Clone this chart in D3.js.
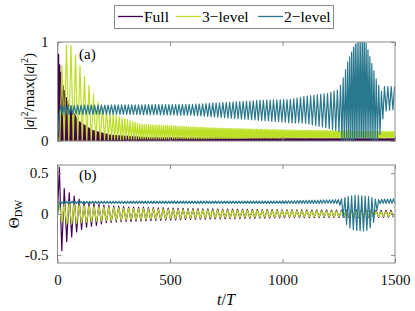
<!DOCTYPE html>
<html>
<head>
<meta charset="utf-8">
<script src="https://cdn.jsdelivr.net/npm/d3@7"></script>
<style>
  body { margin: 0; background: #fff; }
</style>
</head>
<body>
<div id="chart"></div>
<script>
const seriesNames = ['Full', '3\u2212level', '2\u2212level']
const seriesColors = ['#440154', '#bddf26', '#2a788e']

const xTicks = [0, 500, 1000, 1500]
const yTicksA = [0, 1]
const yTicksB = [-0.5, 0, 0.5]

// envelopes: [t, lower, upper, period]
// panel (a)
const fullA = [
  [0, 0, 1.0, 5], [6, 0, 0.85, 5], [12, 0, 0.73, 5], [27, 0, 0.53, 5],
  [50, 0, 0.37, 5], [94, 0, 0.2, 5], [153, 0, 0.11, 5], [234, 0, 0.06, 5],
  [400, 0.005, 0.035, 5], [800, 0.005, 0.03, 5], [1500, 0.005, 0.025, 5]
]
const threeA = [
  [0, 0, 0, 20], [10, 0, 0.6, 20], [32, 0, 0.95, 20], [52, 0, 1.0, 20],
  [72, 0, 0.91, 20], [94, 0, 0.79, 20], [116, 0, 0.67, 20], [138, 0, 0.57, 20],
  [160, 0, 0.47, 20], [189, 0.01, 0.36, 20], [234, 0.015, 0.28, 14],
  [367, 0.02, 0.17, 10], [700, 0.025, 0.13, 7], [1035, 0.03, 0.11, 7],
  [1500, 0.03, 0.095, 7]
]
const twoA = [
  [0, 0, 0, 15], [4, 0.27, 0.36, 15], [300, 0.27, 0.365, 15], [600, 0.26, 0.37, 15],
  [900, 0.21, 0.41, 15], [1035, 0.185, 0.42, 15], [1100, 0.18, 0.45, 15],
  [1200, 0.13, 0.48, 15], [1250, 0.1, 0.52, 14], [1265, 0, 0.6, 11],
  [1290, 0, 0.8, 9], [1320, 0.02, 0.97, 8], [1340, 0.03, 1.0, 8],
  [1370, 0.03, 1.0, 8], [1395, 0.02, 0.8, 9], [1420, 0, 0.6, 11],
  [1440, 0.1, 0.5, 13], [1450, 0.3, 0.55, 15], [1500, 0.32, 0.55, 15]
]

// panel (b)
const fullB = [
  [0, 0, 0, 22], [8, -0.5, 0.57, 22], [19, -0.45, 0.44, 22], [30, -0.39, 0.31, 22],
  [41, -0.34, 0.28, 22], [52, -0.31, 0.26, 22], [63, -0.28, 0.24, 22],
  [74, -0.25, 0.22, 22], [85, -0.22, 0.2, 22], [96, -0.21, 0.18, 22],
  [118, -0.17, 0.15, 22], [140, -0.15, 0.14, 22], [162, -0.15, 0.13, 22],
  [184, -0.13, 0.12, 22], [206, -0.11, 0.11, 22], [228, -0.1, 0.1, 22],
  [320, -0.09, 0.085, 22], [600, -0.065, 0.065, 22], [1035, -0.045, 0.05, 22],
  [1500, -0.04, 0.045, 22]
]
const threeB = [
  [0, 0, 0, 22], [8, -0.02, 0.12, 22], [19, -0.1, 0.12, 22], [50, -0.13, 0.13, 22],
  [100, -0.11, 0.11, 22], [200, -0.085, 0.085, 22], [320, -0.07, 0.07, 22],
  [600, -0.05, 0.05, 22], [1000, -0.035, 0.04, 22], [1500, -0.03, 0.03, 22]
]
const twoB = [
  [0, 0, 0, 13], [5, 0.13, 0.155, 13], [1000, 0.13, 0.16, 13], [1240, 0.13, 0.175, 13],
  [1258, 0.1, 0.18, 15], [1275, -0.1, 0.2, 15], [1300, -0.17, 0.22, 15],
  [1320, -0.2, 0.23, 15], [1370, -0.21, 0.22, 15], [1400, -0.15, 0.2, 15],
  [1420, 0.05, 0.17, 15], [1435, 0.13, 0.18, 13], [1500, 0.13, 0.185, 13]
]

let width = 415
let height = 311
let serif = '"Liberation Serif"'

let svg = d3
  .select('#chart')
  .append('svg')
  .attr('width', width)
  .attr('height', height)
  .style('font-family', serif)

let xScale = d3.scaleLinear().domain([0, 1500]).range([57.5, 395])
let yScaleA = d3.scaleLinear().domain([0, 1]).range([141, 42])
let yScaleB = d3.scaleLinear().domain([-0.6, 0.6]).range([263, 165])

// value of column col at time t, between the read knots
function envelope(knots, t, col) {
  let i = d3.bisector(d => d[0]).right(knots, t)
  if (i <= 0) return knots[0][col]
  if (i >= knots.length) return knots[knots.length - 1][col]
  let a = knots[i - 1]
  let b = knots[i]
  let f = (t - a[0]) / (b[0] - a[0])
  return a[col] + f * (b[col] - a[col])
}

// alternate between the upper and lower envelope every half period
function zigzag(knots, shift) {
  let pts = [[0, knots[0][2]]]
  let t = shift
  let up = false
  if (shift > 0) up = true
  else t = envelope(knots, 0, 3) / 2
  while (t <= 1500) {
    pts.push([t, envelope(knots, t, up ? 2 : 1)])
    t += envelope(knots, t, 3) / 2
    up = !up
  }
  return pts
}

function drawPanel(yScale, yTicks, series, label, labelY, clipId, showX) {
  let top = yScale.range()[1]
  let bottom = yScale.range()[0]

  svg
    .append('clipPath')
    .attr('id', clipId)
    .append('rect')
    .attr('x', xScale.range()[0])
    .attr('y', top)
    .attr('width', xScale.range()[1] - xScale.range()[0])
    .attr('height', bottom - top)

  let line = d3
    .line()
    .x(d => xScale(d[0]))
    .y(d => yScale(d[1]))

  svg
    .append('g')
    .attr('clip-path', `url(#${clipId})`)
    .selectAll('path')
    .data(series)
    .enter()
    .append('path')
    .attr('d', d => line(zigzag(d.knots, d.shift)))
    .attr('fill', 'none')
    .attr('stroke', (d, i) => seriesColors[i])
    .attr('stroke-width', 1.2)
    .attr('stroke-linejoin', 'round')

  // box and inward ticks
  svg
    .append('rect')
    .attr('x', xScale.range()[0])
    .attr('y', top)
    .attr('width', xScale.range()[1] - xScale.range()[0])
    .attr('height', bottom - top)
    .attr('fill', 'none')
    .attr('stroke', '#8a8a8a')
    .attr('stroke-width', 1)

  let fmt = d => String(d)
  let axes = [
    [d3.axisBottom(xScale).tickValues(xTicks).tickFormat(showX ? fmt : ''), `translate(0,${bottom})`],
    [d3.axisTop(xScale).tickValues(xTicks).tickFormat(''), `translate(0,${top})`],
    [d3.axisLeft(yScale).tickValues(yTicks).tickFormat(fmt), `translate(${xScale.range()[0]},0)`],
    [d3.axisRight(yScale).tickValues(yTicks).tickFormat(''), `translate(${xScale.range()[1]},0)`]
  ]
  axes.forEach(([axis, tr], k) => {
    let g = svg
      .append('g')
      .attr('transform', tr)
      .call(axis.tickSizeInner(-4).tickSizeOuter(0).tickPadding(k === 0 ? 11.3 : 9))
    g.attr('font-family', null).attr('font-size', 15).style('font-family', serif)
    g.select('.domain').remove()
    g.selectAll('line').attr('stroke', '#8a8a8a')
    g.selectAll('text').attr('fill', '#111').style('font-family', serif)
  })

  svg
    .append('text')
    .attr('x', 79)
    .attr('y', labelY)
    .attr('font-size', 15)
    .style('font-family', serif)
    .text(label)
}

drawPanel(yScaleA, yTicksA, [
  { knots: fullA, shift: 0 },
  { knots: threeA, shift: 0 },
  { knots: twoA, shift: 0 }
], '(a)', 59, 'clip-a', false)

drawPanel(yScaleB, yTicksB, [
  { knots: fullB, shift: 8 },
  { knots: threeB, shift: 8 },
  { knots: twoB, shift: 0 }
], '(b)', 180, 'clip-b', true)

// axis labels
let yLabelA = svg
  .append('text')
  .attr('transform', `translate(34,${(yScaleA.range()[0] + yScaleA.range()[1]) / 2}) rotate(-90)`)
  .attr('text-anchor', 'middle')
  .attr('font-size', 15)
  .style('font-family', serif)
yLabelA.append('tspan').text('|')
yLabelA.append('tspan').attr('font-style', 'italic').text('a')
yLabelA.append('tspan').text('|')
yLabelA.append('tspan').attr('font-size', 10).attr('dy', -6).text('2')
yLabelA.append('tspan').attr('dy', 6).text('/max(|')
yLabelA.append('tspan').attr('font-style', 'italic').text('a')
yLabelA.append('tspan').text('|')
yLabelA.append('tspan').attr('font-size', 10).attr('dy', -6).text('2')
yLabelA.append('tspan').attr('dy', 6).text(')')

let yLabelB = svg
  .append('text')
  .attr('transform', `translate(18.5,${yScaleB(0)}) rotate(-90)`)
  .attr('text-anchor', 'middle')
  .attr('font-size', 15)
  .style('font-family', serif)
yLabelB.append('tspan').text('\u0398')
yLabelB.append('tspan').attr('font-size', 10.5).attr('dy', 3).text('DW')

let xLabel = svg
  .append('text')
  .attr('x', 226)
  .attr('y', 305)
  .attr('text-anchor', 'middle')
  .attr('font-size', 16)
  .style('font-family', serif)
xLabel.append('tspan').attr('font-style', 'italic').text('t')
xLabel.append('tspan').text('/')
xLabel.append('tspan').attr('font-style', 'italic').text('T')

// legend
let legend = svg.append('g')
legend
  .append('rect')
  .attr('x', 114.5)
  .attr('y', 5.5)
  .attr('width', 219)
  .attr('height', 23)
  .attr('fill', '#fff')
  .attr('stroke', '#8a8a8a')

let legendX = [118, 176, 258]
seriesNames.forEach((name, i) => {
  legend
    .append('line')
    .attr('x1', legendX[i])
    .attr('x2', legendX[i] + 25)
    .attr('y1', 16.5)
    .attr('y2', 16.5)
    .attr('stroke', seriesColors[i])
    .attr('stroke-width', 1.3)
  legend
    .append('text')
    .attr('x', legendX[i] + 26)
    .attr('y', 22)
    .attr('font-size', 15.5)
    .style('font-family', serif)
    .text(name)
})
</script>
</body>
</html>
